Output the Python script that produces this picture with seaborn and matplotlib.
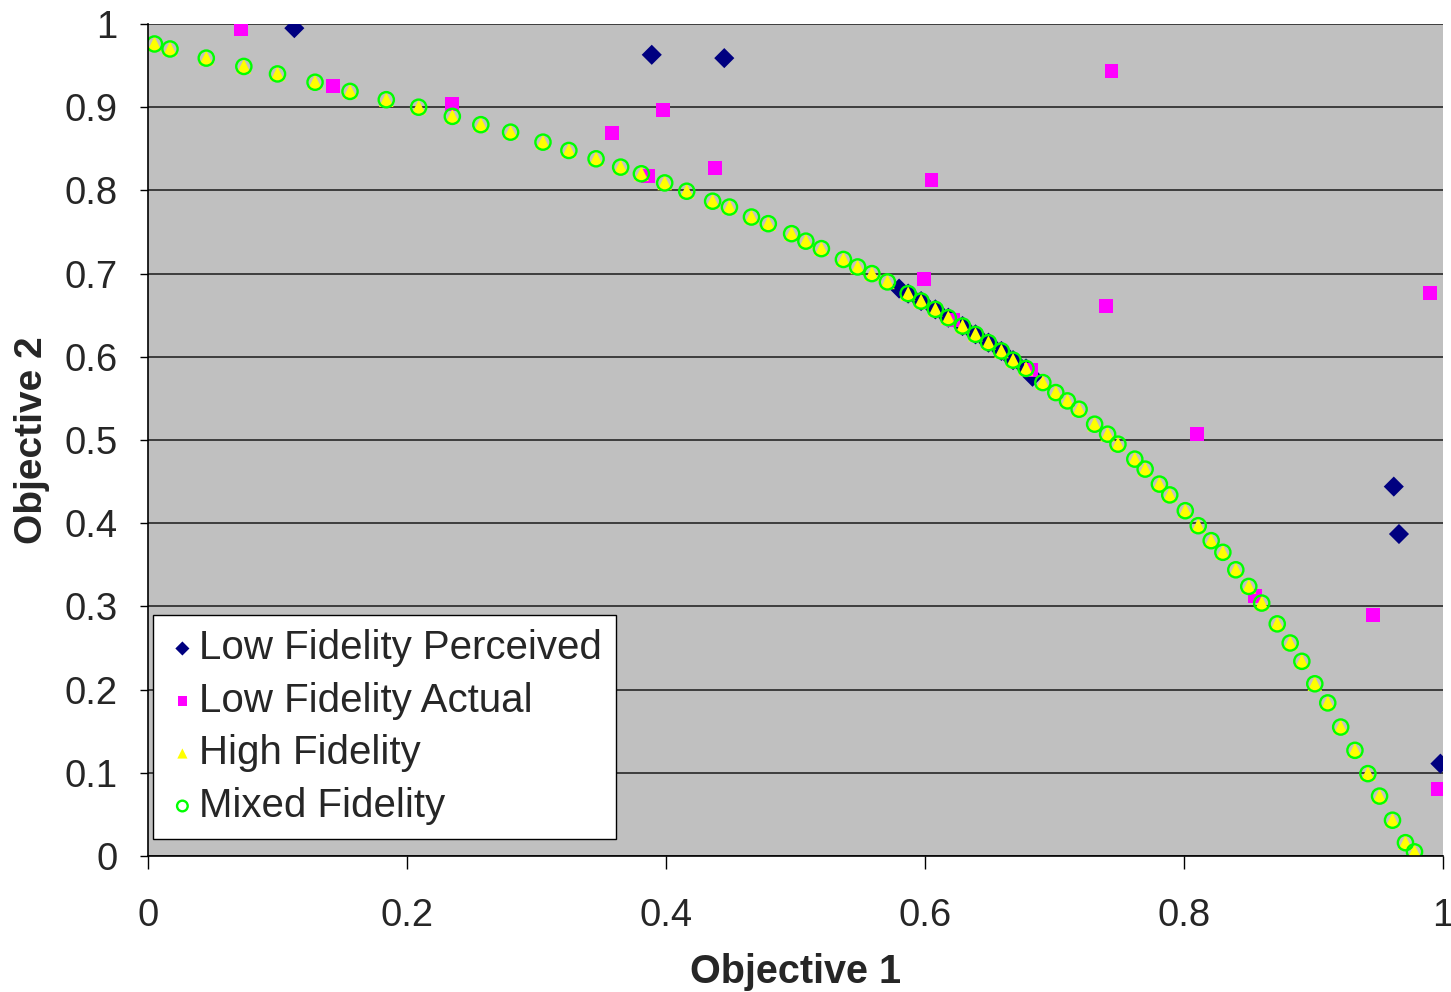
import matplotlib
matplotlib.use("Agg")
import matplotlib.pyplot as plt
import seaborn as sns
import pandas as pd

# ---- data ----
perceived_x = [0.113, 0.389, 0.445, 0.580, 0.587, 0.597, 0.608, 0.618, 0.629, 0.639,
               0.649, 0.659, 0.668, 0.678, 0.683, 0.962, 0.966, 0.998]
perceived_y = [0.995, 0.963, 0.959, 0.682, 0.676, 0.667, 0.657, 0.647, 0.637, 0.627,
               0.617, 0.607, 0.596, 0.586, 0.576, 0.444, 0.387, 0.111]

actual_x = [0.072, 0.143, 0.235, 0.358, 0.386, 0.398, 0.438, 0.744, 0.605, 0.599,
            0.622, 0.682, 0.740, 0.810, 0.855, 0.946, 0.990, 0.996]
actual_y = [0.994, 0.925, 0.904, 0.869, 0.817, 0.897, 0.827, 0.944, 0.813, 0.694,
            0.644, 0.584, 0.661, 0.507, 0.313, 0.290, 0.677, 0.081]

mixed_x = [0.005, 0.017, 0.045, 0.074, 0.100, 0.129, 0.156, 0.184, 0.209, 0.235,
           0.257, 0.280, 0.305, 0.325, 0.346, 0.365, 0.381, 0.399, 0.416, 0.436,
           0.449, 0.466, 0.479, 0.497, 0.508, 0.520, 0.537, 0.548, 0.559, 0.571,
           0.587, 0.597, 0.608, 0.618, 0.629, 0.639, 0.649, 0.659, 0.668, 0.678,
           0.691, 0.701, 0.710, 0.719, 0.731, 0.741, 0.749, 0.762, 0.770, 0.781,
           0.789, 0.801, 0.811, 0.821, 0.830, 0.840, 0.850, 0.860, 0.872, 0.882,
           0.891, 0.901, 0.911, 0.921, 0.932, 0.942, 0.951, 0.961, 0.971, 0.978]
mixed_y = [0.976, 0.970, 0.959, 0.949, 0.940, 0.930, 0.919, 0.909, 0.900, 0.889,
           0.879, 0.870, 0.858, 0.848, 0.838, 0.828, 0.820, 0.809, 0.799, 0.787,
           0.780, 0.768, 0.760, 0.748, 0.739, 0.730, 0.717, 0.708, 0.700, 0.690,
           0.676, 0.667, 0.657, 0.647, 0.637, 0.627, 0.617, 0.607, 0.596, 0.586,
           0.569, 0.557, 0.547, 0.537, 0.519, 0.507, 0.495, 0.477, 0.465, 0.447,
           0.434, 0.415, 0.397, 0.379, 0.365, 0.344, 0.324, 0.304, 0.279, 0.256,
           0.234, 0.207, 0.184, 0.155, 0.127, 0.099, 0.072, 0.043, 0.016, 0.005]

# High fidelity points sit inside every mixed-fidelity circle
high_x = list(mixed_x)
high_y = list(mixed_y)

x_ticks = [0, 0.2, 0.4, 0.6, 0.8, 1]
x_tick_labels = ["0", "0.2", "0.4", "0.6", "0.8", "1"]
y_ticks = [0, 0.1, 0.2, 0.3, 0.4, 0.5, 0.6, 0.7, 0.8, 0.9, 1]
y_tick_labels = ["0", "0.1", "0.2", "0.3", "0.4", "0.5", "0.6", "0.7", "0.8", "0.9", "1"]

sns.set_style("white")
plt.rcParams["font.family"] = ["Liberation Sans", "DejaVu Sans"]

fig = plt.figure(figsize=(14.51, 9.92), dpi=100)
ax = fig.add_axes([148 / 1451, 1 - 856 / 992, (1443 - 148) / 1451, (856 - 24) / 992])
ax.set_facecolor("#C0C0C0")

df_p = pd.DataFrame({"x": perceived_x, "y": perceived_y})
df_a = pd.DataFrame({"x": actual_x, "y": actual_y})
df_h = pd.DataFrame({"x": high_x, "y": high_y})
df_m = pd.DataFrame({"x": mixed_x, "y": mixed_y})

sns.scatterplot(data=df_p, x="x", y="y", ax=ax, marker="D", s=105, color="#000080",
                edgecolor="none", linewidth=0, label="Low Fidelity Perceived", zorder=3)
sns.scatterplot(data=df_a, x="x", y="y", ax=ax, marker="s", s=100, color="#FF00FF",
                edgecolor="none", linewidth=0, label="Low Fidelity Actual", zorder=4)
sns.scatterplot(data=df_h, x="x", y="y", ax=ax, marker="^", s=110, color="#FFFF00",
                edgecolor="none", linewidth=0, label="High Fidelity", zorder=5)
sns.scatterplot(data=df_m, x="x", y="y", ax=ax, marker="o", s=120, facecolor="none",
                edgecolor="#00FF00", linewidth=1.7, label="Mixed Fidelity", zorder=6)

ax.set_xlim(0, 1)
ax.set_ylim(0, 1)
ax.set_xticks(x_ticks)
ax.set_xticklabels(x_tick_labels)
ax.set_yticks(y_ticks)
ax.set_yticklabels(y_tick_labels)
ax.tick_params(axis="x", direction="out", length=9, width=1, color="black",
               labelsize=27.5, pad=21, bottom=True)
ax.tick_params(axis="y", direction="out", length=6, width=1, color="black",
               labelsize=27.5, pad=16, left=True)

ax.yaxis.grid(True, color="#1a1a1a", linewidth=1.1)
ax.xaxis.grid(False)
ax.set_axisbelow(True)

for side in ["top", "right"]:
    ax.spines[side].set_visible(False)
for side in ["left", "bottom"]:
    ax.spines[side].set_visible(True)
    ax.spines[side].set_color("black")
    ax.spines[side].set_linewidth(1.2)
    ax.spines[side].set_zorder(7)

ax.set_xlabel("Objective 1", fontsize=28.5, fontweight="bold", labelpad=14)
ax.set_ylabel("Objective 2", fontsize=28, fontweight="bold", labelpad=10)

leg = ax.legend(loc="upper left", bbox_to_anchor=(0.004, 0.2897), borderaxespad=0,
                fontsize=29, frameon=True, fancybox=False, framealpha=1,
                edgecolor="black", facecolor="white", markerscale=0.7,
                handletextpad=0.05, labelspacing=0.36, borderpad=0.35,
                handlelength=0.75)
leg.get_frame().set_linewidth(1.0)
leg.set_zorder(10)

fig.savefig("out.png", dpi=100)
